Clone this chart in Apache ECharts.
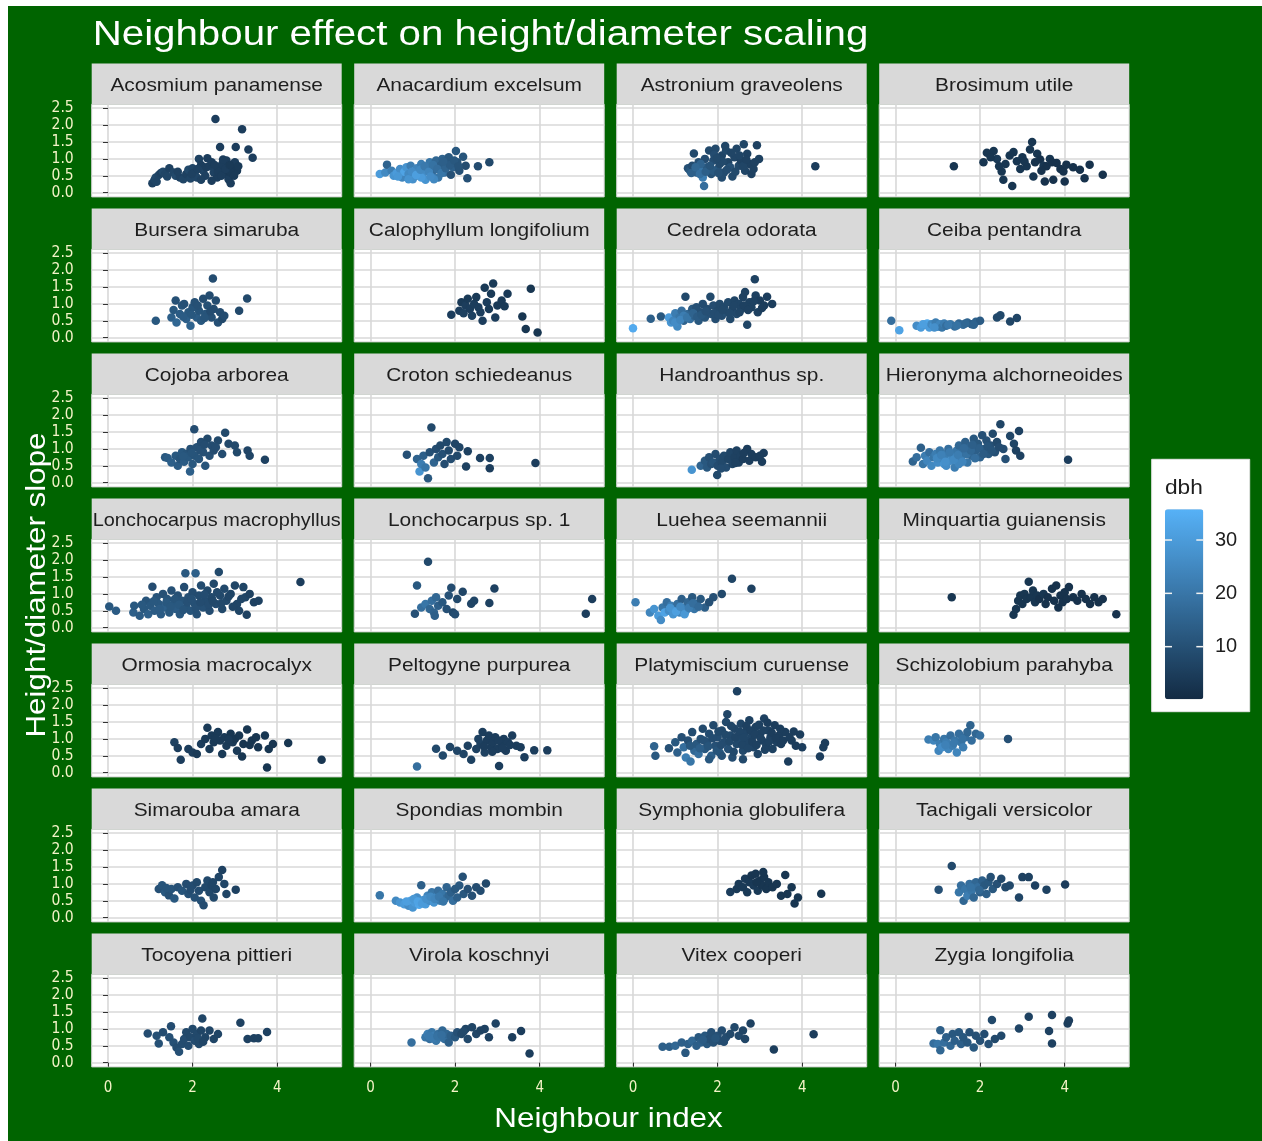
<!DOCTYPE html>
<html>
<head>
<meta charset="utf-8">
<script src="https://cdn.jsdelivr.net/npm/echarts@6/dist/echarts.min.js"></script>
<style>
  html, body { margin: 0; padding: 0; background: #ffffff; }
  #chart { width: 1262px; height: 1141px; }
</style>
</head>
<body>
<div id="chart"></div>
<script>
// Species shown in the facet panels, in reading order (4 per row)
const species = [
  'Acosmium panamense', 'Anacardium excelsum', 'Astronium graveolens', 'Brosimum utile',
  'Bursera simaruba', 'Calophyllum longifolium', 'Cedrela odorata', 'Ceiba pentandra',
  'Cojoba arborea', 'Croton schiedeanus', 'Handroanthus sp.', 'Hieronyma alchorneoides',
  'Lonchocarpus macrophyllus', 'Lonchocarpus sp. 1', 'Luehea seemannii', 'Minquartia guianensis',
  'Ormosia macrocalyx', 'Peltogyne purpurea', 'Platymiscium curuense', 'Schizolobium parahyba',
  'Simarouba amara', 'Spondias mombin', 'Symphonia globulifera', 'Tachigali versicolor',
  'Tocoyena pittieri', 'Virola koschnyi', 'Vitex cooperi', 'Zygia longifolia'
];

// Each point: [neighbour index, height/diameter slope, dbh]
const acosmium = [[1.05,0.28,6],[1.1,0.38,7],[1.13,0.45,8],[1.2,0.52,7],[1.25,0.58,6],[1.3,0.62,8],[1.35,0.55,7],[1.45,0.72,6],[1.55,0.6,7],[1.6,0.5,8],[1.7,0.45,6],[1.78,0.4,7],[1.85,0.55,6],[1.9,0.68,8],[2.0,0.72,7],[2.05,0.6,6],[2.1,0.45,7],[2.15,1.0,6],[2.2,0.82,5],[2.25,0.65,7],[2.3,0.5,6],[2.35,1.02,5],[2.4,0.78,6],[2.45,0.9,5],[2.5,0.6,6],[2.54,2.18,5],[2.58,0.45,5],[2.62,0.72,5],[2.65,1.35,5],[2.7,0.85,5],[2.75,0.55,4],[2.8,0.95,5],[2.85,0.4,5],[2.9,0.28,5],[2.95,0.75,4],[3.0,0.9,5],[3.02,1.35,5],[3.05,0.65,4],[3.17,1.88,5],[3.32,1.28,5],[3.42,1.03,5],[2.2,0.38,6],[1.95,0.42,7],[2.45,0.35,5],[2.6,0.62,5],[2.9,0.6,4],[1.15,0.32,7],[1.4,0.48,7],[1.65,0.62,6],[1.98,0.55,6],[2.12,0.7,6],[2.32,0.75,5],[2.52,0.82,5],[2.68,0.5,5],[2.78,0.7,5],[2.88,0.82,4],[2.98,0.5,4],[3.08,0.78,4],[2.72,0.98,5]];
const anacardium = [[0.22,0.55,30],[0.35,0.6,25],[0.39,0.83,15],[0.5,0.65,22],[0.55,0.5,28],[0.62,0.58,30],[0.7,0.7,26],[0.75,0.45,24],[0.8,0.62,32],[0.85,0.75,28],[0.9,0.55,25],[0.95,0.8,22],[1.0,0.4,27],[1.05,0.65,30],[1.1,0.72,24],[1.15,0.5,20],[1.2,0.85,22],[1.25,0.6,26],[1.3,0.38,28],[1.35,0.75,18],[1.4,0.9,20],[1.45,0.55,22],[1.5,0.68,17],[1.55,0.95,16],[1.6,0.45,20],[1.65,0.8,14],[1.7,1.0,15],[1.75,0.6,18],[1.8,0.88,13],[1.85,1.05,12],[1.9,0.53,10],[1.95,0.75,14],[2.02,1.23,12],[2.05,0.9,11],[2.1,0.65,10],[2.19,1.06,11],[2.25,0.8,9],[2.29,0.43,10],[2.54,0.78,9],[2.81,0.9,8],[1.5,0.4,25],[1.2,0.45,30],[0.9,0.4,28],[0.65,0.48,29],[0.98,0.62,26],[1.08,0.52,31],[1.18,0.68,25],[1.28,0.78,21],[1.38,0.62,24],[1.48,0.82,19],[1.58,0.7,18],[1.68,0.58,20],[1.78,0.72,15],[1.88,0.82,13],[1.98,0.95,12],[2.08,0.78,11],[1.72,0.92,14],[1.42,0.48,26]];
const astronium = [[1.3,0.72,10],[1.35,0.65,12],[1.4,0.8,9],[1.44,1.16,8],[1.5,0.6,14],[1.55,0.9,10],[1.6,0.7,20],[1.65,0.45,22],[1.68,0.2,18],[1.7,1.0,9],[1.75,0.75,12],[1.8,1.25,8],[1.85,0.55,10],[1.9,0.95,9],[1.95,1.3,8],[2.0,0.7,11],[2.05,0.85,8],[2.1,1.1,7],[2.15,0.6,9],[2.2,1.25,8],[2.25,0.9,7],[2.3,0.75,10],[2.35,0.48,8],[2.4,1.05,7],[2.45,1.3,7],[2.5,0.8,8],[2.55,0.95,6],[2.62,1.43,7],[2.65,0.65,7],[2.7,1.15,6],[2.75,0.85,6],[2.8,0.55,6],[2.85,0.7,6],[2.93,1.4,6],[2.98,1.0,6],[1.6,0.85,15],[1.9,0.65,12],[2.1,0.45,9],[4.31,0.78,5],[1.38,0.58,14],[1.48,0.75,16],[1.58,0.55,18],[1.72,0.62,14],[1.82,0.8,11],[1.92,1.12,9],[2.02,0.58,10],[2.12,0.92,8],[2.22,0.68,9],[2.32,1.18,7],[2.42,0.62,8],[2.52,1.1,7],[2.6,0.78,7],[2.68,0.98,6],[2.88,0.9,6],[1.98,1.02,8],[2.18,1.38,7]];
const brosimum = [[1.38,0.78,3],[2.08,0.9,3],[2.16,1.18,3],[2.32,1.23,3],[2.4,1.0,4],[2.51,0.63,3],[2.55,0.38,3],[2.6,0.85,3],[2.7,1.1,3],[2.76,0.2,3],[2.79,1.2,3],[2.87,0.93,3],[2.95,0.7,3],[3.0,1.05,3],[3.1,0.78,3],[3.18,1.28,3],[3.23,1.5,3],[3.26,0.48,3],[3.3,0.9,2],[3.35,1.15,3],[3.42,0.98,2],[3.5,0.8,3],[3.53,0.33,2],[3.57,0.78,2],[3.65,1.0,3],[3.73,0.38,2],[3.81,0.88,2],[3.9,0.7,2],[3.97,0.63,2],[4.0,0.33,2],[4.04,0.83,2],[4.2,0.75,2],[4.36,0.68,2],[4.47,0.43,2],[4.59,0.83,2],[4.9,0.53,2],[2.25,1.05,3],[2.45,0.78,3],[3.05,0.92,3],[3.45,0.65,2],[3.7,0.9,2]];
const bursera = [[1.13,0.5,12],[1.5,0.6,14],[1.55,0.82,12],[1.6,1.1,10],[1.62,0.45,16],[1.7,0.7,13],[1.75,0.95,11],[1.8,1.0,10],[1.85,0.55,14],[1.9,0.75,12],[1.95,0.35,15],[2.0,0.9,11],[2.05,1.05,10],[2.1,0.6,13],[2.15,0.8,11],[2.2,0.5,12],[2.25,1.15,9],[2.3,0.7,11],[2.35,0.95,10],[2.4,1.25,9],[2.45,0.6,10],[2.48,1.75,9],[2.5,0.85,9],[2.55,1.1,9],[2.6,0.45,10],[2.65,0.75,9],[2.7,0.55,8],[2.75,0.65,9],[3.1,0.8,8],[3.29,1.16,8],[1.78,0.62,13],[1.98,0.68,12],[2.12,0.95,10],[2.28,0.58,11],[2.42,0.78,9]];
const calophyllum = [[1.91,0.68,5],[2.1,0.8,5],[2.15,1.05,4],[2.2,0.72,6],[2.25,0.95,5],[2.3,1.15,4],[2.35,0.85,5],[2.4,0.65,6],[2.45,1.0,5],[2.5,1.2,4],[2.55,0.9,5],[2.6,0.75,5],[2.65,0.5,5],[2.7,1.48,4],[2.75,1.05,5],[2.8,0.85,4],[2.85,1.3,4],[2.9,1.6,4],[2.95,0.6,5],[3.0,0.95,4],[3.1,1.1,4],[3.17,0.93,4],[3.24,1.3,4],[3.59,0.63,3],[3.67,0.26,3],[3.79,1.45,3],[3.95,0.15,3]];
const cedrela = [[0.0,0.28,34],[0.42,0.56,14],[0.66,0.63,12],[0.85,0.6,30],[0.9,0.45,28],[0.95,0.5,24],[1.0,0.72,22],[1.05,0.33,25],[1.1,0.6,20],[1.15,0.8,18],[1.2,0.5,15],[1.24,1.21,8],[1.3,0.7,16],[1.35,0.55,18],[1.4,0.85,12],[1.45,0.65,14],[1.5,0.9,10],[1.55,0.5,12],[1.6,0.75,10],[1.65,1.0,9],[1.7,0.6,11],[1.75,0.85,9],[1.83,1.21,8],[1.85,0.7,10],[1.9,0.95,9],[1.95,0.55,9],[2.0,0.8,8],[2.05,1.0,8],[2.1,0.65,9],[2.15,0.9,8],[2.2,0.75,10],[2.25,1.05,8],[2.3,0.55,8],[2.35,0.85,7],[2.4,1.1,7],[2.45,0.7,8],[2.5,1.0,7],[2.55,0.85,7],[2.6,1.2,6],[2.65,1.35,6],[2.7,0.38,7],[2.75,1.05,6],[2.8,0.9,6],[2.88,1.73,6],[2.9,1.25,6],[2.95,0.75,6],[3.0,1.1,5],[3.1,0.95,5],[3.17,1.21,5],[3.29,1.0,5],[1.0,0.45,26],[1.2,0.65,22],[1.12,0.52,24],[1.28,0.6,20],[1.42,0.72,15],[1.52,0.62,13],[1.62,0.68,12],[1.72,0.78,10],[1.92,0.72,9],[2.02,0.68,9],[2.12,0.82,8],[2.28,0.72,8],[2.38,0.95,7],[2.52,0.75,7],[2.62,0.95,6],[2.72,0.82,6],[2.85,1.08,6],[3.05,0.88,5]];
const ceiba = [[-0.1,0.5,18],[0.09,0.22,32],[0.5,0.35,26],[0.6,0.3,30],[0.7,0.38,28],[0.75,0.42,33],[0.8,0.3,30],[0.85,0.4,25],[0.9,0.35,28],[0.95,0.45,22],[1.0,0.32,26],[1.05,0.4,24],[1.1,0.3,20],[1.15,0.42,22],[1.2,0.35,18],[1.3,0.4,20],[1.4,0.33,18],[1.5,0.42,16],[1.6,0.38,17],[1.7,0.45,15],[1.8,0.4,14],[1.9,0.47,15],[2.0,0.5,13],[2.4,0.6,8],[2.48,0.66,8],[2.71,0.48,7],[2.87,0.58,7],[0.65,0.4,31],[0.92,0.3,27],[1.25,0.38,21],[1.45,0.36,19],[1.65,0.42,16],[1.85,0.38,15]];
const cojoba = [[1.35,0.75,12],[1.41,0.73,13],[1.5,0.6,14],[1.6,0.8,12],[1.65,0.5,13],[1.7,0.7,11],[1.75,0.9,12],[1.8,0.62,13],[1.85,0.85,11],[1.9,0.75,12],[1.94,0.33,14],[1.95,1.0,10],[2.0,0.55,12],[2.04,1.58,9],[2.05,0.8,11],[2.1,1.05,10],[2.15,0.7,11],[2.2,1.2,9],[2.25,0.9,10],[2.3,0.5,11],[2.35,1.3,8],[2.4,0.8,10],[2.45,1.1,9],[2.5,0.95,9],[2.6,1.25,8],[2.7,0.85,9],[2.77,1.48,8],[2.85,1.15,8],[3.0,1.1,8],[3.05,0.9,8],[3.3,0.95,7],[3.35,0.8,7],[3.71,0.68,6],[1.78,0.78,12],[1.98,0.88,11],[2.18,0.95,10],[2.28,1.12,9],[2.55,1.05,9]];
const croton = [[0.86,0.83,10],[1.1,0.7,15],[1.16,0.33,28],[1.2,0.55,22],[1.25,0.8,14],[1.3,0.45,20],[1.36,0.13,12],[1.4,0.9,10],[1.44,1.63,8],[1.5,0.6,15],[1.55,1.0,9],[1.6,0.75,12],[1.65,1.1,8],[1.7,0.85,10],[1.75,0.55,9],[1.8,1.2,8],[1.85,0.95,8],[1.9,0.7,9],[2.0,1.15,7],[2.05,0.8,8],[2.1,1.05,7],[2.26,0.48,6],[2.3,0.93,6],[2.59,0.73,6],[2.82,0.73,6],[2.82,0.43,5],[3.9,0.58,5]];
const handroanthus = [[1.39,0.38,28],[1.6,0.5,15],[1.7,0.65,12],[1.75,0.45,12],[1.8,0.75,10],[1.85,0.55,10],[1.9,0.6,11],[1.95,0.85,9],[1.99,0.23,8],[2.0,0.5,9],[2.05,0.7,9],[2.1,0.6,8],[2.15,0.8,8],[2.2,0.45,9],[2.25,0.7,7],[2.3,0.9,7],[2.35,0.55,7],[2.4,0.75,6],[2.45,0.95,6],[2.5,0.6,6],[2.55,0.8,6],[2.6,0.7,5],[2.7,1.0,5],[2.75,0.65,5],[2.8,0.85,5],[2.9,0.75,5],[3.0,0.8,5],[3.09,0.88,5],[3.05,0.62,5],[2.08,0.42,9],[2.42,0.58,6],[2.62,0.88,5]];
const hieronyma = [[0.41,0.63,15],[0.5,0.75,18],[0.6,1.03,14],[0.65,0.55,20],[0.7,0.8,22],[0.75,0.65,24],[0.8,0.9,18],[0.85,0.5,25],[0.9,0.75,20],[0.95,0.85,22],[1.0,0.6,26],[1.05,0.95,20],[1.1,0.7,24],[1.15,0.55,28],[1.2,0.85,22],[1.25,1.0,18],[1.3,0.65,26],[1.35,0.8,24],[1.4,0.45,22],[1.45,0.95,20],[1.5,1.1,16],[1.55,0.7,22],[1.6,0.9,18],[1.65,1.2,14],[1.7,0.6,20],[1.75,1.05,15],[1.8,0.8,16],[1.85,1.3,12],[1.9,0.95,14],[1.95,1.15,12],[2.0,0.75,15],[2.05,1.4,10],[2.1,1.0,12],[2.15,1.25,10],[2.2,0.85,12],[2.25,1.1,10],[2.3,1.45,8],[2.35,0.9,10],[2.4,1.2,8],[2.48,1.73,7],[2.55,1.0,9],[2.6,0.7,10],[2.71,1.38,7],[2.8,1.15,7],[2.85,0.95,6],[2.92,1.53,6],[2.95,0.8,6],[1.2,0.5,26],[1.5,0.55,24],[4.08,0.68,5],[0.98,0.72,25],[1.08,0.82,23],[1.18,0.62,27],[1.28,0.9,21],[1.38,0.68,25],[1.48,0.82,22],[1.58,0.62,24],[1.68,0.85,19],[1.78,0.95,16],[1.88,0.72,18],[1.98,1.02,14],[2.08,0.85,13],[2.18,1.08,11],[2.28,0.95,11],[2.45,1.05,9],[1.62,1.02,17],[1.82,1.12,14]];
const lonchocarpusMac = [[0.03,0.63,12],[0.19,0.5,13],[0.6,0.45,14],[0.62,0.65,12],[0.75,0.35,13],[0.85,0.55,12],[0.9,0.8,11],[0.95,0.4,14],[1.0,0.65,12],[1.05,1.21,9],[1.1,0.5,13],[1.15,0.9,11],[1.2,0.7,12],[1.25,0.4,13],[1.3,1.0,10],[1.35,0.6,14],[1.4,0.85,11],[1.45,0.45,12],[1.5,1.1,10],[1.55,0.7,12],[1.6,0.55,13],[1.65,0.95,10],[1.7,0.4,12],[1.75,0.8,11],[1.8,1.2,9],[1.83,1.61,12],[1.85,0.6,11],[1.9,0.9,10],[1.95,0.5,11],[2.0,1.05,9],[2.05,0.7,10],[2.07,1.61,14],[2.1,0.4,10],[2.15,0.95,9],[2.2,1.25,9],[2.25,0.6,10],[2.3,0.8,9],[2.35,1.1,8],[2.4,0.5,9],[2.45,0.9,8],[2.5,1.3,8],[2.55,0.7,9],[2.62,1.65,8],[2.65,0.95,8],[2.7,0.55,8],[2.75,1.15,8],[2.8,0.8,8],[2.9,1.0,7],[3.0,1.25,7],[3.05,0.7,7],[3.1,0.5,7],[3.2,1.2,7],[3.25,0.9,7],[3.28,0.38,6],[3.35,1.0,6],[3.45,0.75,6],[3.56,0.8,6],[4.55,1.35,5],[0.8,0.68,12],[1.08,0.78,12],[1.22,0.55,13],[1.38,0.75,12],[1.48,0.62,12],[1.58,0.85,11],[1.68,0.68,12],[1.78,0.52,11],[1.88,0.75,10],[1.98,0.85,10],[2.08,0.58,10],[2.18,0.75,9],[2.28,0.98,9],[2.38,0.68,9],[2.48,0.78,8],[2.58,1.05,8],[2.68,0.72,8],[2.85,0.92,7],[2.95,0.62,7],[3.15,0.85,7]];
const lonchocarpusSp1 = [[1.05,0.41,10],[1.1,1.25,12],[1.2,0.6,18],[1.3,0.7,20],[1.36,1.95,8],[1.4,0.55,16],[1.45,0.8,18],[1.5,0.45,15],[1.52,0.35,14],[1.55,0.9,16],[1.6,0.65,14],[1.7,0.75,12],[1.8,0.55,10],[1.85,0.95,10],[1.91,1.18,9],[1.95,0.45,8],[2.0,0.4,9],[2.05,0.85,8],[2.18,1.06,7],[2.38,0.71,7],[2.45,0.8,7],[2.81,0.73,6],[2.93,1.16,6],[5.09,0.41,5],[5.24,0.85,5]];
const luehea = [[0.06,0.75,22],[0.4,0.45,24],[0.5,0.55,28],[0.6,0.35,30],[0.66,0.23,26],[0.7,0.6,20],[0.75,0.45,32],[0.8,0.75,18],[0.85,0.5,26],[0.9,0.65,22],[0.95,0.4,28],[1.0,0.55,30],[1.05,0.7,18],[1.1,0.45,24],[1.15,0.85,14],[1.2,0.6,20],[1.25,0.5,26],[1.3,0.75,16],[1.35,0.65,18],[1.4,0.9,12],[1.45,0.55,20],[1.5,0.7,15],[1.6,0.85,12],[1.7,0.6,14],[1.8,0.75,10],[1.9,0.9,10],[2.1,1.0,8],[2.34,1.45,7],[2.8,1.15,6],[0.88,0.58,28],[1.02,0.48,31],[1.12,0.62,25],[1.22,0.4,29],[1.32,0.58,22],[1.42,0.72,18],[1.55,0.62,17]];
const minquartia = [[1.33,0.9,3],[2.79,0.38,3],[2.85,0.55,3],[2.9,0.8,3],[2.95,0.95,3],[3.0,0.7,3],[3.05,1.0,3],[3.1,0.85,3],[3.15,1.36,3],[3.2,0.9,3],[3.25,1.1,3],[3.3,0.75,3],[3.35,0.95,3],[3.4,0.85,2],[3.5,1.0,3],[3.55,0.7,2],[3.6,0.9,2],[3.7,1.15,2],[3.75,0.8,2],[3.8,1.25,2],[3.85,0.6,2],[3.9,0.95,2],[3.95,0.75,2],[4.0,1.05,2],[4.05,0.85,2],[4.1,1.2,2],[4.2,0.9,2],[4.3,0.8,2],[4.4,1.0,2],[4.5,0.85,2],[4.6,0.7,2],[4.7,0.9,2],[4.8,0.75,2],[4.9,0.85,2],[5.22,0.4,2]];
const ormosia = [[1.57,0.9,6],[1.65,0.73,5],[1.72,0.38,5],[1.9,0.7,5],[2.0,0.6,5],[2.1,0.55,4],[2.2,0.85,5],[2.3,1.0,4],[2.35,1.33,4],[2.4,0.7,4],[2.45,1.1,4],[2.5,0.9,4],[2.6,1.2,4],[2.65,0.95,4],[2.7,0.55,4],[2.75,1.05,4],[2.8,0.8,4],[2.9,1.15,3],[2.95,0.9,4],[3.0,1.0,3],[3.05,0.65,4],[3.1,1.1,3],[3.17,0.48,3],[3.2,0.85,3],[3.29,1.28,3],[3.4,0.95,3],[3.5,1.05,3],[3.55,0.75,3],[3.71,1.1,3],[3.76,0.15,3],[3.8,0.7,3],[3.9,0.85,3],[4.26,0.88,3],[5.05,0.38,3],[2.55,1.02,4],[2.85,0.98,4],[3.35,0.82,3]];
const peltogyne = [[1.1,0.18,18],[1.55,0.71,8],[1.71,0.51,8],[1.88,0.76,7],[2.05,0.65,7],[2.2,0.55,7],[2.3,0.8,6],[2.38,0.38,6],[2.5,0.7,6],[2.55,1.0,6],[2.6,0.85,6],[2.65,1.2,5],[2.7,0.6,6],[2.75,0.95,5],[2.8,1.1,5],[2.85,0.75,5],[2.9,0.9,5],[2.95,1.05,5],[3.0,0.7,5],[3.04,0.2,5],[3.1,0.85,5],[3.15,1.0,5],[3.2,0.65,5],[3.25,0.9,5],[3.35,1.1,5],[3.45,0.8,5],[3.55,0.75,5],[3.64,0.46,5],[3.87,0.66,5],[4.18,0.66,5],[2.68,0.78,5],[2.88,0.62,5],[3.02,0.95,5],[3.12,0.72,5],[3.3,0.82,5]];
const platymiscium = [[0.5,0.78,15],[0.53,0.5,12],[0.85,0.72,10],[1.0,0.9,12],[1.05,0.6,14],[1.15,1.05,10],[1.2,0.75,18],[1.25,0.45,22],[1.3,0.95,10],[1.36,0.33,20],[1.4,1.2,9],[1.45,0.65,16],[1.5,0.85,12],[1.55,0.55,18],[1.6,1.0,10],[1.65,1.3,8],[1.7,0.7,12],[1.75,0.9,10],[1.8,1.15,9],[1.85,0.5,14],[1.9,1.4,8],[1.95,0.8,10],[2.0,1.05,9],[2.05,0.6,12],[2.1,1.25,8],[2.15,0.9,9],[2.2,1.5,8],[2.23,1.73,7],[2.25,0.7,10],[2.3,1.1,8],[2.35,0.45,9],[2.4,1.3,7],[2.45,0.85,8],[2.46,2.41,6],[2.5,1.0,8],[2.55,1.45,7],[2.6,0.65,8],[2.65,1.2,7],[2.7,0.9,7],[2.75,1.55,6],[2.8,1.05,7],[2.85,0.75,7],[2.9,1.35,6],[2.95,0.55,7],[3.0,1.15,6],[3.05,0.95,6],[3.1,1.6,6],[3.15,0.8,6],[3.2,1.25,6],[3.25,1.05,6],[3.3,0.7,6],[3.35,1.4,5],[3.4,0.9,6],[3.45,1.1,5],[3.5,0.85,5],[3.6,1.2,5],[3.67,0.33,5],[3.75,0.95,5],[3.85,0.8,5],[3.95,1.13,5],[4.0,0.75,5],[4.42,0.48,5],[4.5,0.75,5],[4.54,0.88,5],[1.8,0.4,12],[2.1,0.5,10],[2.6,0.4,8],[1.35,0.8,12],[1.58,0.72,14],[1.68,0.95,10],[1.78,0.78,11],[1.88,1.02,9],[1.98,0.65,11],[2.02,1.22,8],[2.08,0.82,9],[2.18,1.12,8],[2.28,0.92,8],[2.32,1.38,7],[2.38,0.62,8],[2.42,1.05,7],[2.52,1.22,7],[2.58,0.82,7],[2.62,1.05,7],[2.68,1.38,6],[2.72,0.72,7],[2.78,1.25,6],[2.82,0.92,6],[2.88,1.12,6],[2.92,0.82,6],[2.98,1.42,6],[3.02,1.02,6],[3.08,1.25,6],[3.12,0.68,6],[3.18,1.48,5],[3.22,0.92,6],[3.28,1.18,5],[3.38,1.02,5],[3.48,1.3,5],[3.55,0.95,5],[3.7,1.05,5],[3.8,1.22,5]];
const schizolobium = [[0.78,0.98,22],[0.9,0.95,24],[0.95,1.05,20],[1.02,0.65,24],[1.05,0.85,22],[1.1,0.75,26],[1.15,1.0,20],[1.2,0.9,22],[1.25,0.7,24],[1.3,1.1,18],[1.35,0.8,22],[1.4,0.95,20],[1.45,0.6,24],[1.5,1.15,18],[1.55,0.9,20],[1.6,0.75,22],[1.65,1.05,18],[1.7,1.2,16],[1.77,1.4,15],[1.8,0.95,18],[1.9,1.15,16],[2.0,1.1,18],[2.66,1.0,10],[1.18,0.82,23],[1.38,0.88,21],[1.58,1.0,19]];
const simarouba = [[1.2,0.85,10],[1.28,0.96,11],[1.35,0.75,12],[1.44,0.66,10],[1.5,0.85,11],[1.57,0.57,12],[1.65,0.9,10],[1.75,0.8,11],[1.85,1.0,9],[1.9,0.7,10],[2.0,0.95,9],[2.05,0.6,10],[2.1,1.05,8],[2.15,0.8,9],[2.2,0.5,10],[2.26,0.37,9],[2.3,0.9,8],[2.35,1.1,8],[2.4,0.75,8],[2.45,0.95,7],[2.5,0.6,8],[2.55,0.85,7],[2.62,1.2,7],[2.7,1.41,6],[2.75,1.0,7],[2.8,0.7,7],[3.02,0.83,6],[1.38,0.88,11],[1.95,0.82,9],[2.48,1.05,7]];
const spondias = [[0.22,0.66,20],[0.6,0.5,25],[0.7,0.45,28],[0.8,0.4,30],[0.9,0.35,26],[0.95,0.5,32],[1.0,0.3,28],[1.05,0.45,30],[1.1,0.6,26],[1.15,0.38,33],[1.2,0.96,14],[1.25,0.52,28],[1.3,0.4,30],[1.35,0.65,24],[1.4,0.5,26],[1.45,0.75,20],[1.5,0.45,28],[1.55,0.6,25],[1.6,0.8,18],[1.65,0.5,22],[1.7,0.7,20],[1.75,0.55,18],[1.8,0.9,15],[1.85,0.65,16],[1.9,0.75,14],[1.95,0.5,18],[2.0,0.85,12],[2.05,0.6,14],[2.1,0.95,12],[2.18,1.21,10],[2.2,0.7,12],[2.3,0.85,10],[2.4,0.65,10],[2.5,0.9,9],[2.6,0.8,9],[2.73,1.01,8],[0.85,0.48,31],[1.02,0.55,29],[1.12,0.48,32],[1.22,0.42,30],[1.32,0.55,27],[1.42,0.62,25],[1.52,0.55,24],[1.62,0.62,21],[1.72,0.48,20]];
const symphonia = [[2.3,0.76,5],[2.45,0.85,4],[2.5,1.0,4],[2.6,0.9,4],[2.65,1.15,4],[2.7,0.75,4],[2.75,1.05,4],[2.8,1.25,3],[2.85,0.95,4],[2.9,1.3,3],[2.95,0.8,4],[3.0,1.1,3],[3.05,0.95,3],[3.1,1.2,3],[3.15,0.85,3],[3.2,1.05,3],[3.3,0.9,3],[3.4,1.0,3],[3.5,0.65,3],[3.6,1.26,3],[3.65,0.7,3],[3.75,0.9,3],[3.82,0.42,3],[3.9,0.6,3],[4.45,0.71,3],[2.92,1.05,3],[3.08,1.35,3]];
const tachigali = [[1.02,0.83,10],[1.33,1.53,8],[1.5,0.75,20],[1.55,0.95,18],[1.61,0.5,16],[1.65,0.85,20],[1.7,0.65,22],[1.75,1.0,18],[1.8,0.8,20],[1.85,0.6,16],[1.9,1.05,16],[1.95,0.9,18],[2.0,0.75,14],[2.05,1.1,14],[2.1,0.95,12],[2.15,0.7,14],[2.2,1.05,12],[2.25,1.2,10],[2.3,0.85,12],[2.4,1.0,10],[2.5,1.15,8],[2.6,0.9,8],[2.7,0.95,8],[2.92,0.6,7],[3.0,1.2,6],[3.15,1.2,6],[3.3,0.95,6],[3.57,0.83,6],[4.01,0.98,5],[1.78,0.9,19],[1.98,0.82,16]];
const tocoyena = [[0.94,0.86,9],[1.15,0.8,10],[1.2,0.57,10],[1.3,0.9,9],[1.45,0.75,10],[1.49,1.08,9],[1.55,0.6,10],[1.62,0.45,9],[1.68,0.32,10],[1.75,0.55,9],[1.8,0.7,9],[1.85,0.9,8],[1.9,0.5,9],[1.95,0.75,8],[2.0,1.0,8],[2.05,0.65,9],[2.1,0.85,8],[2.15,0.55,8],[2.2,0.95,7],[2.23,1.31,7],[2.3,0.75,7],[2.4,0.95,7],[2.5,0.7,7],[2.6,0.85,7],[3.13,1.18,6],[3.3,0.7,6],[3.45,0.72,6],[3.55,0.72,6],[3.76,0.91,6],[2.12,0.72,8],[2.25,0.62,7]];
const virola = [[0.97,0.6,18],[1.3,0.75,20],[1.35,0.85,22],[1.4,0.7,18],[1.45,0.9,20],[1.5,0.8,22],[1.55,0.65,20],[1.6,0.85,18],[1.65,0.75,20],[1.7,0.95,16],[1.75,0.7,18],[1.8,0.85,16],[1.85,0.6,14],[1.9,0.8,14],[2.0,0.75,12],[2.05,0.9,10],[2.15,0.85,8],[2.25,1.0,7],[2.3,0.7,8],[2.4,1.05,7],[2.5,0.85,7],[2.6,0.95,6],[2.7,1.0,6],[2.8,0.75,6],[2.96,1.16,6],[3.35,0.75,5],[3.56,0.94,5],[3.76,0.27,5],[1.38,0.78,21],[1.48,0.72,21],[1.58,0.78,19],[1.68,0.82,18],[2.2,0.92,8]];
const vitex = [[0.7,0.47,14],[0.86,0.47,14],[1.0,0.5,16],[1.15,0.6,14],[1.24,0.29,12],[1.3,0.55,14],[1.4,0.65,16],[1.5,0.5,14],[1.55,0.75,12],[1.6,0.6,14],[1.7,0.8,12],[1.75,0.55,12],[1.8,0.7,10],[1.85,0.9,10],[1.9,0.6,10],[2.0,0.8,10],[2.05,0.65,9],[2.1,0.95,9],[2.2,0.75,9],[2.3,0.85,8],[2.4,1.05,8],[2.5,0.8,8],[2.6,0.95,7],[2.65,0.7,7],[2.78,1.16,6],[3.33,0.39,5],[4.27,0.84,5],[1.65,0.68,13],[1.95,0.72,11],[2.15,0.62,9]];
const zygia = [[0.9,0.57,18],[1.0,0.55,20],[1.06,0.96,14],[1.06,0.37,16],[1.15,0.6,18],[1.2,0.75,14],[1.3,0.5,16],[1.35,0.85,12],[1.4,0.65,14],[1.5,0.9,12],[1.55,0.55,14],[1.6,0.75,12],[1.7,0.6,12],[1.75,0.9,10],[1.85,0.45,12],[1.9,0.8,10],[2.0,0.65,10],[2.1,0.85,9],[2.2,0.55,10],[2.28,1.26,8],[2.35,0.7,8],[2.5,0.8,8],[2.92,1.01,7],[3.15,1.36,6],[3.63,0.94,6],[3.7,1.41,6],[3.7,0.57,6],[4.07,1.16,5],[4.1,1.25,5]];

const panelData = [
  acosmium, anacardium, astronium, brosimum,
  bursera, calophyllum, cedrela, ceiba,
  cojoba, croton, handroanthus, hieronyma,
  lonchocarpusMac, lonchocarpusSp1, luehea, minquartia,
  ormosia, peltogyne, platymiscium, schizolobium,
  simarouba, spondias, symphonia, tachigali,
  tocoyena, virola, vitex, zygia
];

// Axis ticks and colour-bar ticks
const xTicks = [0, 2, 4];
const yTicks = [0, 0.5, 1, 1.5, 2, 2.5];
const dbhTicks = [10, 20, 30];
const dbhRange = [0.13, 35.76];

// Shared scale limits (fixed across facets)
const xLimits = [-0.385, 5.525];
const yLimits = [-0.125, 2.615];

// Facet layout
const NCOL = 4, NROW = 7;
const PANEL_W = 250, PANEL_H = 92.6;
const COL_STEP = 262.5, ROW_STEP = 145;
const PANEL_LEFT0 = 91.7, PANEL_TOP0 = 104.3, STRIP_H = 40.8;

const BG = '#006400';
const TICK_TEXT = '#f3f3c6';
const SANS = '"Liberation Sans", Arial, sans-serif';
const NARROW = '"Liberation Sans Narrow", "Arial Narrow", "DejaVu Sans Condensed", sans-serif';

const measureCtx = document.createElement('canvas').getContext('2d');
function textWidth(text, size, family) {
  measureCtx.font = size + 'px ' + family;
  return measureCtx.measureText(text).width;
}

const grids = [], xAxes = [], yAxes = [], series = [], graphics = [];

// page margin (white) around the green plot background
graphics.push({ type: 'rect', shape: { x: 0, y: 0, width: 1262, height: 6 }, style: { fill: '#ffffff' }, silent: true });
graphics.push({ type: 'rect', shape: { x: 0, y: 0, width: 8, height: 1141 }, style: { fill: '#ffffff' }, silent: true });

species.forEach((name, i) => {
  const r = Math.floor(i / NCOL), c = i % NCOL;
  const left = PANEL_LEFT0 + c * COL_STEP;
  const top = PANEL_TOP0 + r * ROW_STEP;
  const bottomRow = r === NROW - 1;
  const firstCol = c === 0;

  grids.push({
    left: left, top: top, width: PANEL_W, height: PANEL_H,
    show: true, backgroundColor: '#ffffff', borderColor: '#d3d3d3', borderWidth: 1,
    containLabel: false
  });

  xAxes.push({
    gridIndex: i, type: 'value', min: xLimits[0], max: xLimits[1],
    axisLine: { show: false },
    axisTick: { show: bottomRow, length: 4, customValues: xTicks, lineStyle: { color: '#333333', width: 1 } },
    axisLabel: { show: bottomRow, customValues: xTicks, margin: 14, color: TICK_TEXT, fontSize: 15, fontFamily: NARROW },
    splitLine: { show: true, lineStyle: { color: '#d8d8d8', width: 1.6 } }
  });

  yAxes.push({
    gridIndex: i, type: 'value', min: yLimits[0], max: yLimits[1],
    axisLine: { show: false },
    axisTick: { show: firstCol, length: 5, customValues: yTicks, lineStyle: { color: '#333333', width: 1 } },
    axisLabel: {
      show: firstCol, customValues: yTicks, margin: 18, color: TICK_TEXT, fontSize: 15.5, fontFamily: NARROW,
      formatter: v => v.toFixed(1)
    },
    splitLine: { show: true, lineStyle: { color: '#d8d8d8', width: 1.6 } }
  });

  series.push({
    type: 'scatter', name: name, xAxisIndex: i, yAxisIndex: i,
    data: panelData[i], symbolSize: 8.5, silent: true,
    itemStyle: { opacity: 1 }
  });

  // facet strip
  const stripTop = top - STRIP_H;
  graphics.push({
    type: 'rect', shape: { x: left, y: stripTop, width: PANEL_W, height: STRIP_H },
    style: { fill: '#d9d9d9' }, silent: true
  });
  const w = textWidth(name, 19, SANS);
  const sx = Math.min(1.1, (PANEL_W - 2) / w);
  graphics.push({
    type: 'text', x: left + PANEL_W / 2, y: stripTop + 22, scaleX: sx, silent: true,
    style: { text: name, fill: '#1e1e1e', fontSize: 19, fontFamily: SANS, textAlign: 'center', textVerticalAlign: 'middle' }
  });
});

// title and axis titles
graphics.push({
  type: 'text', x: 92.7, y: 35, scaleX: 1.15, silent: true,
  style: { text: 'Neighbour effect on height/diameter scaling', fill: '#ffffff', fontSize: 35, fontFamily: SANS, textAlign: 'left', textVerticalAlign: 'middle' }
});
graphics.push({
  type: 'text', x: 608.5, y: 1119, scaleX: 1.12, silent: true,
  style: { text: 'Neighbour index', fill: '#ffffff', fontSize: 28, fontFamily: SANS, textAlign: 'center', textVerticalAlign: 'middle' }
});
graphics.push({
  type: 'text', x: 37, y: 585, rotation: Math.PI / 2, scaleX: 1.12, silent: true,
  style: { text: 'Height/diameter slope', fill: '#ffffff', fontSize: 28, fontFamily: SANS, textAlign: 'center', textVerticalAlign: 'middle' }
});

// colour-bar legend box
const BAR_LEFT = 1165, BAR_TOP = 509.3, BAR_W = 38.3, BAR_H = 190;
graphics.push({
  type: 'rect', shape: { x: 1151.7, y: 459.3, width: 98, height: 252.4 },
  style: { fill: '#ffffff', stroke: '#e4e4e4', lineWidth: 1 }, silent: true, z: -1
});
graphics.push({
  type: 'text', x: BAR_LEFT, y: 488, scaleX: 1.08, silent: true,
  style: { text: 'dbh', fill: '#1e1e1e', fontSize: 21, fontFamily: SANS, textAlign: 'left', textVerticalAlign: 'middle' }
});
function dbhToY(v) {
  return BAR_TOP + BAR_H * (1 - (v - dbhRange[0]) / (dbhRange[1] - dbhRange[0]));
}
dbhTicks.forEach(v => {
  const y = dbhToY(v);
  graphics.push({ type: 'line', z: 100, silent: true, shape: { x1: BAR_LEFT, y1: y, x2: BAR_LEFT + 7, y2: y }, style: { stroke: '#f2f2f2', lineWidth: 1.5 } });
  graphics.push({ type: 'line', z: 100, silent: true, shape: { x1: BAR_LEFT + BAR_W - 7, y1: y, x2: BAR_LEFT + BAR_W, y2: y }, style: { stroke: '#f2f2f2', lineWidth: 1.5 } });
  graphics.push({
    type: 'text', x: 1215, y: y, silent: true,
    style: { text: String(v), fill: '#1e1e1e', fontSize: 20, fontFamily: SANS, textAlign: 'left', textVerticalAlign: 'middle' }
  });
});

const chart = echarts.init(document.getElementById('chart'), null, { renderer: 'canvas' });
chart.setOption({
  backgroundColor: BG,
  animation: false,
  grid: grids,
  xAxis: xAxes,
  yAxis: yAxes,
  series: series,
  visualMap: {
    type: 'continuous', min: dbhRange[0], max: dbhRange[1], dimension: 2,
    seriesIndex: series.map((s, i) => i),
    inRange: { color: ['#132B43', '#56B1F7'] },
    calculable: false, hoverLink: false,
    left: BAR_LEFT, top: BAR_TOP, itemWidth: BAR_W, itemHeight: BAR_H, padding: 0,
    z: 10
  },
  graphic: { elements: graphics }
});
</script>
</body>
</html>
